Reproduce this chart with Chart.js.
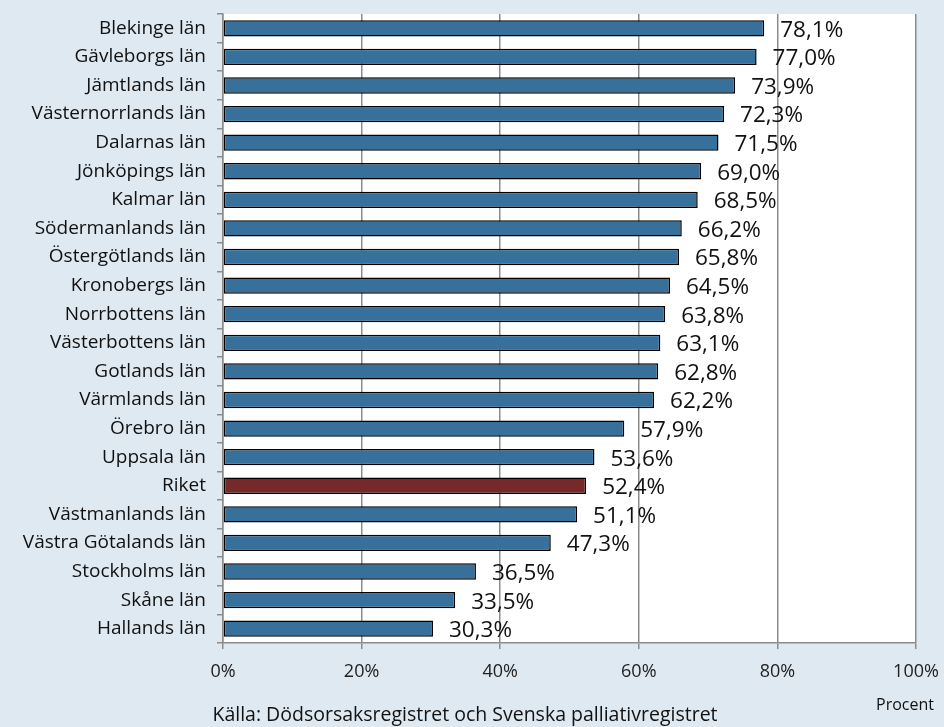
<!DOCTYPE html>
<html>
<head>
<meta charset="utf-8">
<script src="https://cdn.jsdelivr.net/npm/chart.js@4/dist/chart.umd.min.js"></script>
<style>
  html, body { margin: 0; padding: 0; background: #dfe9f1; }
  #wrap { width: 944px; height: 727px; position: relative; }
</style>
</head>
<body>
<div id="wrap"><canvas id="chart" width="944" height="727"></canvas></div>
<script>
// Data
const lanNames = [
    'Blekinge län', 'Gävleborgs län', 'Jämtlands län', 'Västernorrlands län',
    'Dalarnas län', 'Jönköpings län', 'Kalmar län', 'Södermanlands län',
    'Östergötlands län', 'Kronobergs län', 'Norrbottens län', 'Västerbottens län',
    'Gotlands län', 'Värmlands län', 'Örebro län', 'Uppsala län', 'Riket',
    'Västmanlands län', 'Västra Götalands län', 'Stockholms län', 'Skåne län',
    'Hallands län'
];
const lanValues = [
    78.1, 77.0, 73.9, 72.3, 71.5, 69.0, 68.5, 66.2, 65.8, 64.5, 63.8,
    63.1, 62.8, 62.2, 57.9, 53.6, 52.4, 51.1, 47.3, 36.5, 33.5, 30.3
];
const xTicks = [0, 20, 40, 60, 80, 100];
const sourceText = 'Källa: Dödsorsaksregistret och Svenska palliativregistret';
const unitText = 'Procent';

const FONT = "'Open Sans', sans-serif";
const barBlue = '#36709b';
const barRed = '#772828';

const barColors = lanNames.map(n => n === 'Riket' ? barRed : barBlue);

// white plot area behind bars
const plotBackground = {
    id: 'plotBackground',
    beforeDraw(chart) {
        const { ctx, chartArea: a } = chart;
        ctx.save();
        ctx.fillStyle = '#ffffff';
        ctx.fillRect(a.left, a.top, a.right - a.left, a.bottom - a.top);
        ctx.restore();
    }
};

// value labels to the right of each bar + source/unit texts
const valueLabels = {
    id: 'valueLabels',
    afterDatasetsDraw(chart) {
        const ctx = chart.ctx;
        const meta = chart.getDatasetMeta(0);
        ctx.save();
        ctx.font = '22.5px ' + FONT;
        ctx.fillStyle = '#111111';
        ctx.textBaseline = 'middle';
        ctx.textAlign = 'left';
        meta.data.forEach((bar, i) => {
            const txt = lanValues[i].toFixed(1).replace('.', ',') + '%';
            ctx.fillText(txt, bar.x + 16, bar.y + 2);
        });
        ctx.font = '16px ' + FONT;
        ctx.textAlign = 'center';
        ctx.fillText(unitText, 905, 705);
        ctx.font = '19.5px ' + FONT;
        ctx.fillText(sourceText, 465, 715);
        ctx.restore();
    }
};

new Chart(document.getElementById('chart'), {
    type: 'bar',
    data: {
        labels: lanNames,
        datasets: [{
            data: lanValues,
            backgroundColor: barColors,
            borderColor: '#000000',
            borderWidth: 1.5,
            borderSkipped: false,
            barPercentage: 0.57,
            categoryPercentage: 1.0
        }]
    },
    options: {
        indexAxis: 'y',
        responsive: false,
        animation: false,
        layout: { padding: { top: 14, right: 28, bottom: 44, left: 0 } },
        plugins: {
            legend: { display: false },
            tooltip: { enabled: false }
        },
        scales: {
            x: {
                min: 0,
                max: 100,
                afterBuildTicks(axis) {
                    axis.ticks = xTicks.map(v => ({ value: v }));
                },
                afterFit(axis) {
                    axis.height = 40;
                    axis.paddingLeft = 0;
                    axis.paddingRight = 0;
                },
                grid: {
                    color: '#8c8c8c',
                    lineWidth: 1.5,
                    tickLength: 6,
                    drawOnChartArea: true
                },
                border: { color: '#8c8c8c', width: 1.5 },
                ticks: {
                    color: '#222222',
                    font: { family: FONT, size: 18 },
                    padding: 12,
                    maxRotation: 0,
                    callback: v => v + '%'
                }
            },
            y: {
                afterFit(axis) {
                    axis.width = 223;
                    axis.paddingTop = 0;
                    axis.paddingBottom = 0;
                },
                grid: {
                    offset: true,
                    drawOnChartArea: false,
                    color: '#8c8c8c',
                    lineWidth: 1.5,
                    tickLength: 6
                },
                border: { color: '#8c8c8c', width: 1.5 },
                ticks: {
                    color: '#111111',
                    font: { family: FONT, size: 19 },
                    padding: 11,
                    autoSkip: false
                }
            }
        }
    },
    plugins: [plotBackground, valueLabels]
});
</script>
</body>
</html>
